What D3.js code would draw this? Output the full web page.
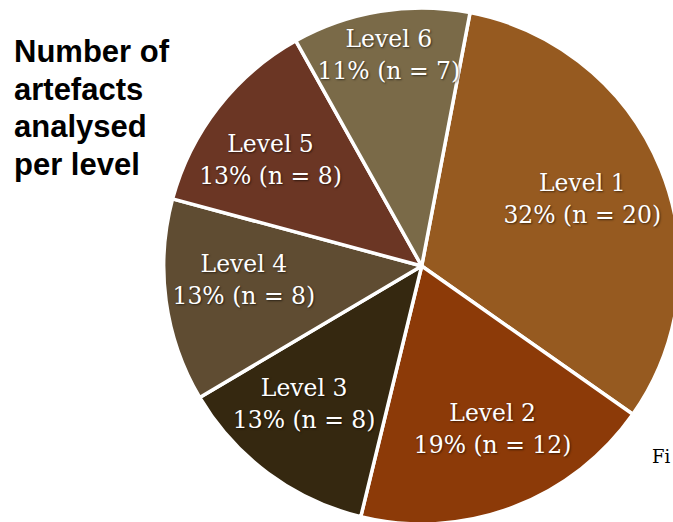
<!DOCTYPE html>
<html>
<head>
<meta charset="utf-8">
<script src="https://cdn.jsdelivr.net/npm/d3@7/dist/d3.min.js"></script>
<style>
  html, body { margin: 0; padding: 0; background: #ffffff; overflow: hidden; }
  svg { display: block; }
  .lbl { font-family: "DejaVu Serif", serif; font-size: 23.5px; fill: #ffffff;
         text-shadow: 1px 1px 2px rgba(0,0,0,0.55); }
  .title { font-family: "Liberation Sans", Arial, sans-serif; font-weight: bold; font-size: 31px; fill: #000; }
</style>
</head>
<body>
<svg id="chart" width="673" height="522"></svg>
<script>
// ---- data ----
const categories = ["Level 1", "Level 2", "Level 3", "Level 4", "Level 5", "Level 6"];
const counts     = [20, 12, 8, 8, 8, 7];
const percents   = ["32%", "19%", "13%", "13%", "13%", "11%"];
const titleLines = ["Number of", "artefacts", "analysed", "per level"];
const footText   = "Fi";

// ---- styles ----
const colors = ["#965A20", "#8C3A08", "#352810", "#5F4C32", "#6B3624", "#7A6A48"];
const labelRadius = [173.5, 179, 182.5, 178.5, 184, 212.5];
const labelAngleOffsetDeg = [-0.2, -2.7, 3.6, 2.9, -3.2, 0.3];

const svg = d3.select("#chart");
const cx = 421.7, cy = 266, R = 258;
const start = 10.8 * Math.PI / 180;

const pie = d3.pie().sort(null).startAngle(start).endAngle(start + 2 * Math.PI);
const arcs = pie(counts);
const arc = d3.arc().innerRadius(0).outerRadius(R);

const g = svg.append("g").attr("transform", `translate(${cx},${cy})`);

g.selectAll("path.slice")
  .data(arcs)
  .join("path")
  .attr("class", "slice")
  .attr("d", arc)
  .attr("fill", (d, i) => colors[i])
  .attr("stroke", "#ffffff")
  .attr("stroke-width", 3.5)
  .attr("stroke-linejoin", "round");

const labels = g.selectAll("text.lbl")
  .data(arcs)
  .join("text")
  .attr("class", "lbl")
  .attr("text-anchor", "middle")
  .attr("transform", (d, i) => {
    const a = (d.startAngle + d.endAngle) / 2 + labelAngleOffsetDeg[i] * Math.PI / 180;
    const la = d3.arc().innerRadius(labelRadius[i]).outerRadius(labelRadius[i]);
    const c = la.centroid({ startAngle: a, endAngle: a });
    return `translate(${c[0]},${c[1]})`;
  });

labels.append("tspan")
  .attr("x", 0).attr("y", -9.5)
  .text((d, i) => categories[i]);
labels.append("tspan")
  .attr("x", 0).attr("y", 22.5)
  .text((d, i) => `${percents[i]} (n = ${counts[i]})`);

// title
const t = svg.append("text").attr("class", "title");
titleLines.forEach((s, i) => {
  t.append("tspan").attr("x", 14).attr("y", 62 + i * 37.7).text(s);
});

// partial footer text
svg.append("text")
  .attr("x", 652).attr("y", 463)
  .attr("font-family", "DejaVu Serif, serif")
  .attr("font-size", 18)
  .attr("fill", "#000")
  .text(footText);
</script>
</body>
</html>
